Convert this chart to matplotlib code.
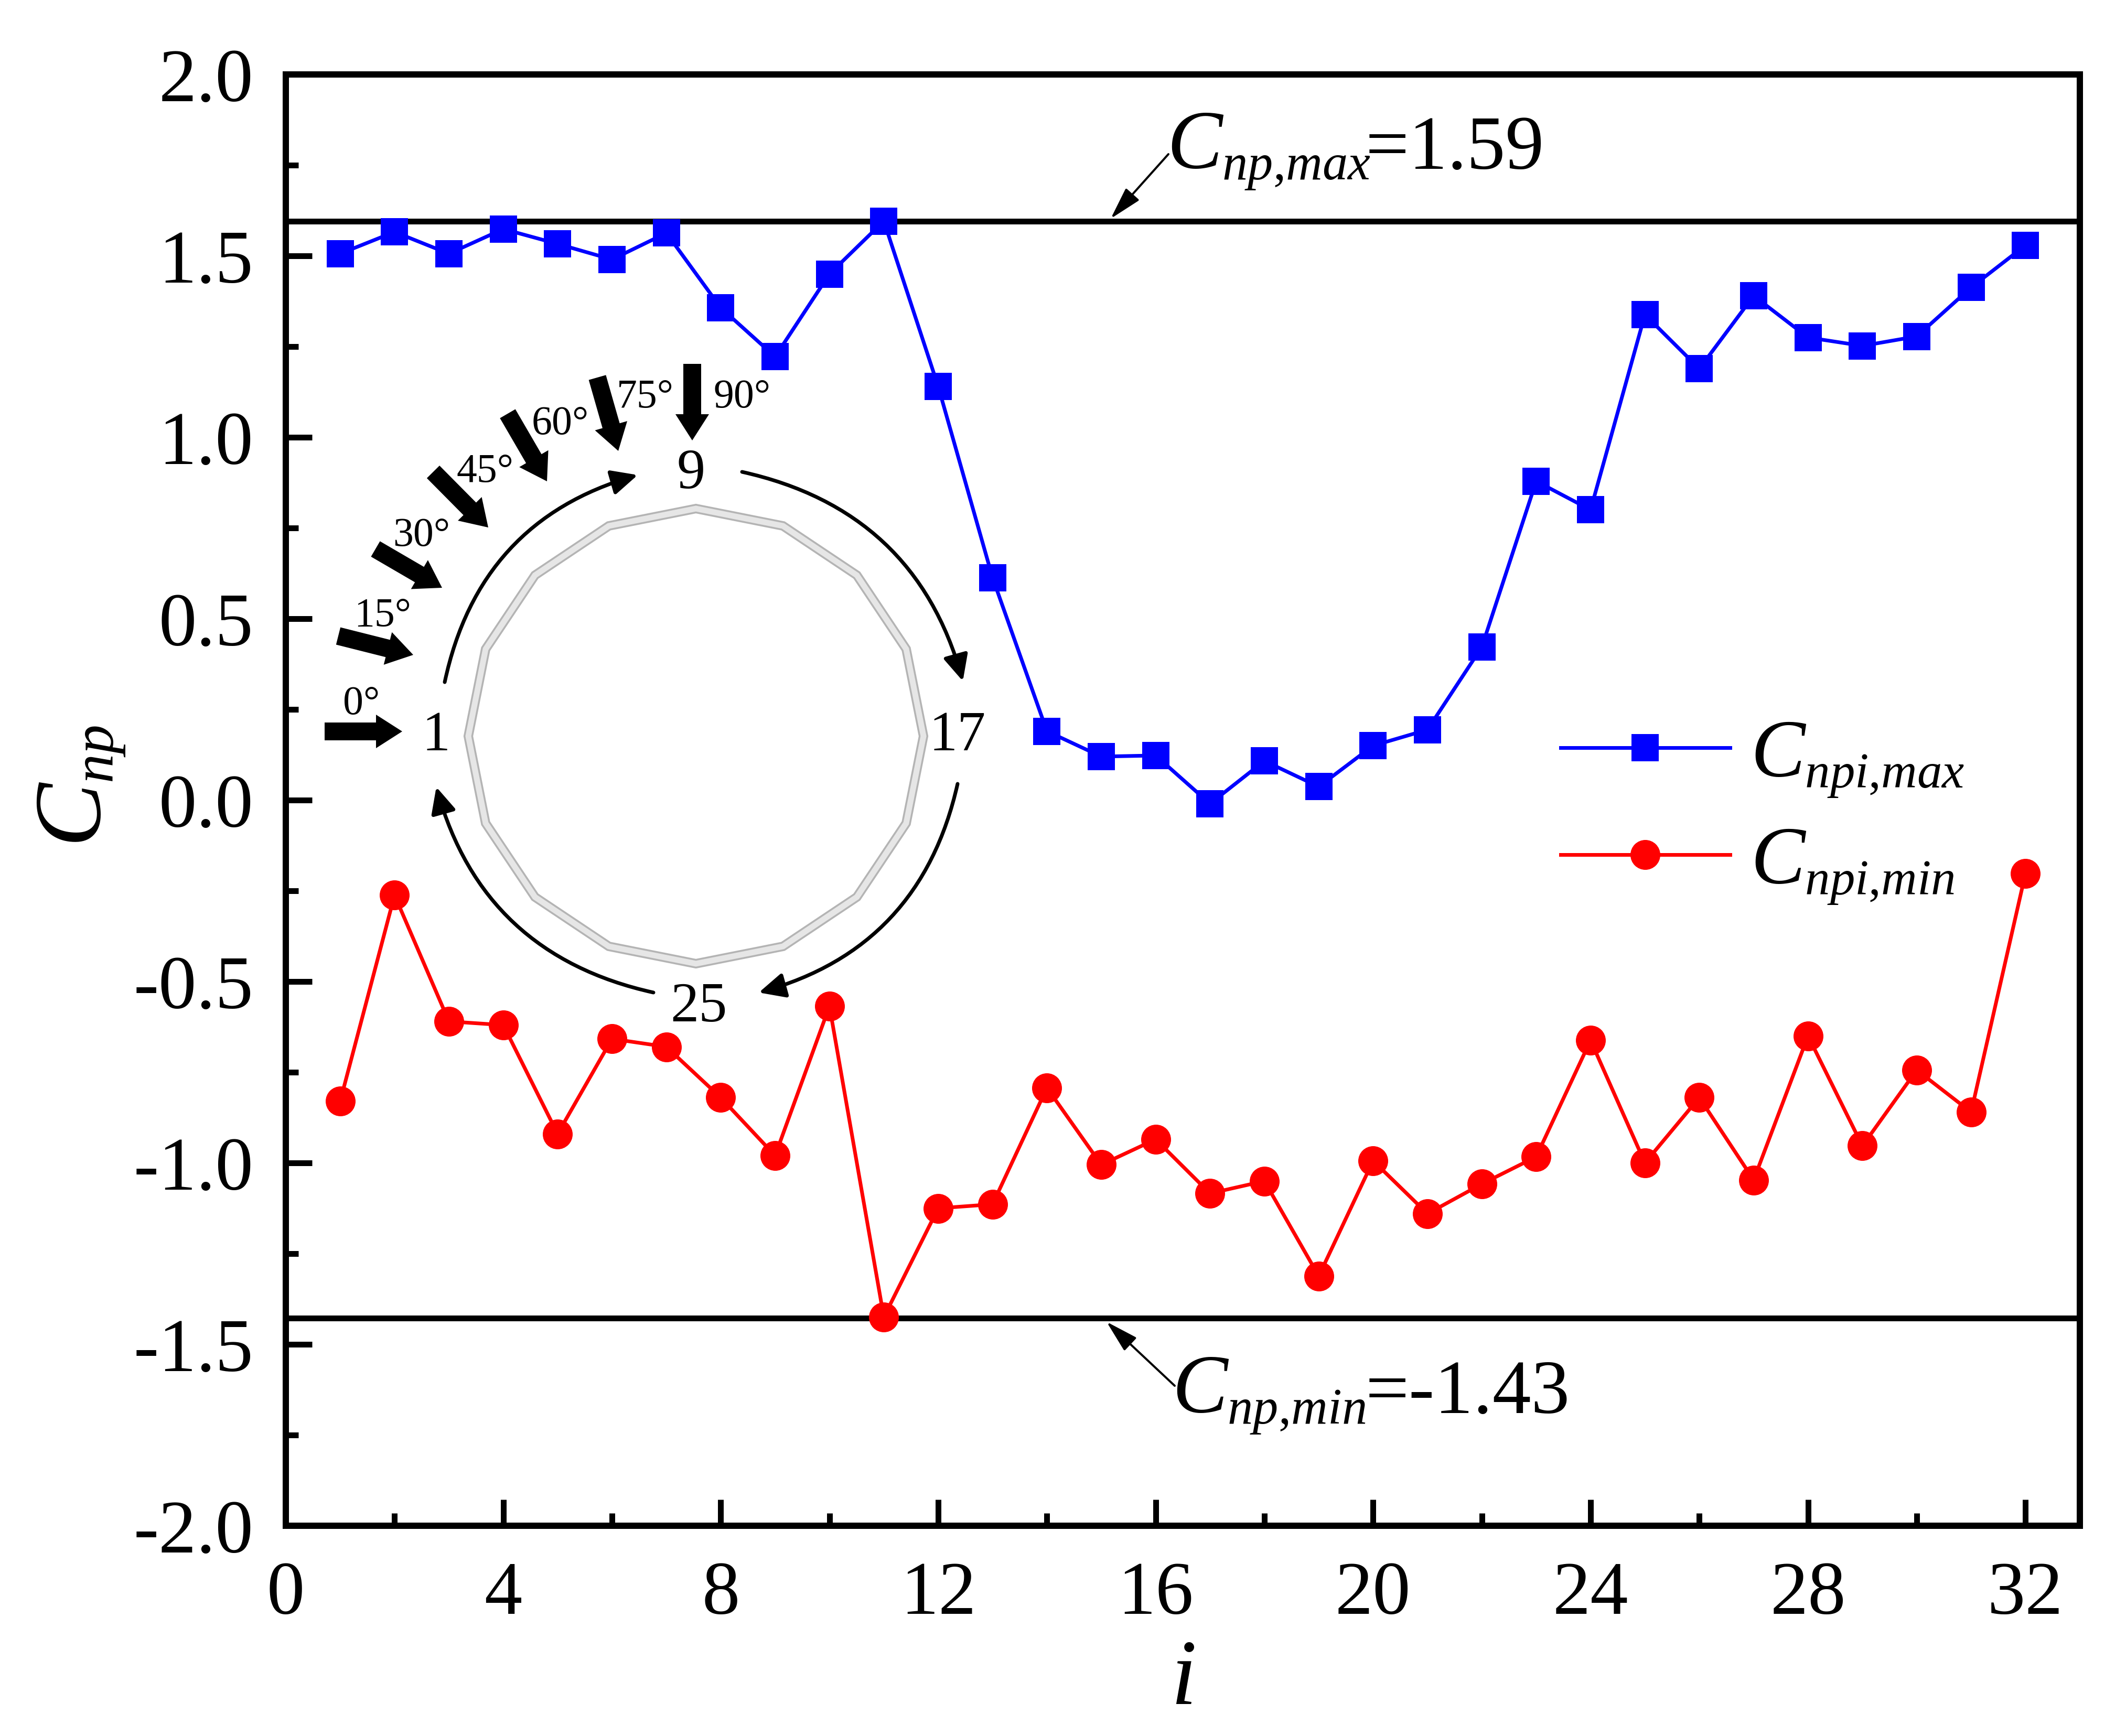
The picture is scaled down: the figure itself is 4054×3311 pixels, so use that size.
import numpy as np
import matplotlib
matplotlib.use('Agg')
import matplotlib.pyplot as plt
import matplotlib._mathtext as mathtext_core
from matplotlib.patches import FancyArrowPatch, Polygon
from matplotlib.ticker import MultipleLocator

plt.rcParams['font.family'] = ['Liberation Serif', 'DejaVu Serif']
plt.rcParams['mathtext.fontset'] = 'custom'
plt.rcParams['mathtext.rm'] = 'Liberation Serif'
plt.rcParams['mathtext.it'] = 'Liberation Serif:italic'
plt.rcParams['axes.unicode_minus'] = False
mathtext_core.SHRINK_FACTOR = 0.61  # subscripts are narrower in the reference

# data
taps = list(range(1, 33))
cnp_max = [1.506, 1.566, 1.506, 1.574, 1.533, 1.49, 1.563, 1.357, 1.222, 1.45, 1.596,
           1.14, 0.613, 0.19, 0.12, 0.123, -0.01, 0.108, 0.037, 0.15, 0.194, 0.422,
           0.879, 0.80, 1.338, 1.189, 1.39, 1.275, 1.252, 1.278, 1.413, 1.529]
cnp_min = [-0.83, -0.262, -0.61, -0.62, -0.92, -0.658, -0.68, -0.82, -0.98, -0.568, -1.425,
           -1.125, -1.114, -0.793, -1.005, -0.935, -1.084, -1.05, -1.312, -0.994, -1.14, -1.058,
           -0.983, -0.662, -1.0, -0.82, -1.047, -0.65, -0.953, -0.744, -0.86, -0.202]
upper_line = 1.595
lower_line = -1.428
angle_labels = ['0', '15', '30', '45', '60', '75', '90']
tap_labels = ['1', '9', '17', '25']

W, H = 4054, 3312
DPI = 400
PT = 72 / DPI  # one pixel in points

fig = plt.figure(figsize=(W / DPI, H / DPI), dpi=DPI)
left, right, top, bottom = 545, 3966, 143, 2911
ax = fig.add_axes([left / W, 1 - bottom / H, (right - left) / W, (bottom - top) / H])

ax.axhline(upper_line, color='k', lw=11 * PT, zorder=2)
ax.axhline(lower_line, color='k', lw=11 * PT, zorder=2)
ax.plot(taps, cnp_max, '-s', color='#0000ff', ms=52 * PT, lw=7 * PT, mew=0,
        label=r'$C_{npi{,}max}$', zorder=3)
ax.plot(taps, cnp_min, '-o', color='#ff0000', ms=57 * PT, lw=7 * PT, mew=0,
        label=r'$C_{npi{,}min}$', zorder=3)

ax.set_xlim(0, 33)
ax.set_ylim(-2, 2)
ax.xaxis.set_major_locator(MultipleLocator(4))
ax.xaxis.set_minor_locator(MultipleLocator(2))
ax.yaxis.set_major_locator(MultipleLocator(0.5))
ax.yaxis.set_minor_locator(MultipleLocator(0.25))
ax.yaxis.set_major_formatter(lambda v, pos: f'{v:.1f}')
ax.tick_params(which='major', direction='in', length=50 * PT, width=11 * PT,
               labelsize=26, pad=67 * PT)
ax.tick_params(which='minor', direction='in', length=24 * PT, width=11 * PT)
ax.tick_params(axis='y', pad=62 * PT)
for s in ax.spines.values():
    s.set_linewidth(12 * PT)

ax.legend(loc='center left', bbox_to_anchor=(0.7105, 0.4915), frameon=False, fontsize=28,
          borderaxespad=0, borderpad=0,
          handlelength=2.08, labelspacing=0.33, handletextpad=0.25)

# overlay in pixel coordinates for the schematic and the callouts
ov = fig.add_axes([0, 0, 1, 1], facecolor='none')
ov.set_xlim(0, W)
ov.set_ylim(H, 0)
ov.axis('off')

# ring of the 16 sided section
cx, cy, r = 1327, 1405, 434
ang = np.deg2rad(np.arange(16) * 22.5)
ring = np.c_[cx + r * np.sin(ang), cy - r * np.cos(ang)]
ov.add_patch(Polygon(ring, closed=True, fill=False, ec='#b4b4b4', lw=18 * PT, joinstyle='miter'))
ov.add_patch(Polygon(ring, closed=True, fill=False, ec='#e6e6e6', lw=11 * PT, joinstyle='miter'))

# curved arrows around the ring
arcs = [((848, 1302), (1216, 907)), ((1415, 901), (1836, 1300)),
        ((1826, 1496), (1447, 1894)), ((1246, 1894), (832, 1502))]
for a, b in arcs:
    ov.add_patch(FancyArrowPatch(a, b, connectionstyle='arc3,rad=-0.3',
                                 arrowstyle='-|>,head_length=0.42,head_width=0.2',
                                 mutation_scale=18, lw=7 * PT, color='k',
                                 shrinkA=0, shrinkB=0))

# wind direction arrows
winds = [((619, 1396), (767, 1396)), ((645, 1214), (788, 1250)), ((716, 1048), (843, 1122)),
         ((826, 901), (931, 1007)), ((968, 790), (1043, 919)), ((1139, 721), (1179, 861)),
         ((1320, 695), (1320, 841))]
for (x0, y0), (x1, y1) in winds:
    ov.arrow(x0, y0, x1 - x0, y1 - y0, width=34, head_width=64, head_length=50,
             length_includes_head=True, color='k', lw=0)

angle_pos = [(689, 1343), (730, 1175), (804, 1022), (925, 900), (1068, 809), (1230, 758), (1415, 758)]
for lab, (x, y) in zip(angle_labels, angle_pos):
    ov.text(x, y, lab + '°', fontsize=14, ha='center', va='center')
tap_pos = [(832, 1405), (1318, 905), (1826, 1405), (1332, 1922)]
for lab, (x, y) in zip(tap_labels, tap_pos):
    ov.text(x, y, lab, fontsize=19.5, ha='center', va='center')

# callouts for the extreme values
callout = dict(arrowstyle='-|>,head_length=0.8,head_width=0.22', color='k', lw=4 * PT,
               shrinkA=0, shrinkB=0, mutation_scale=12)
ov.annotate('', xy=(2118, 418), xytext=(2228, 295), arrowprops=callout)
ov.annotate('', xy=(2110, 2522), xytext=(2240, 2644), arrowprops=callout)
ov.text(2225, 322, r'$C_{np{,}max}$', fontsize=28.5, ha='left', va='baseline')
ov.text(2604, 322, '=1.59', fontsize=26.5, ha='left', va='baseline')
ov.text(2235, 2695, r'$C_{np{,}min}$', fontsize=28.5, ha='left', va='baseline')
ov.text(2604, 2695, '=-1.43', fontsize=26.5, ha='left', va='baseline')

# axis titles
ov.text(156, 1500, r'$C_{np}$', fontsize=33, rotation=90, ha='center', va='center')
ov.text(2255, 3207, r'$i$', fontsize=32, ha='center', va='center')

fig.savefig('out.png', dpi=DPI, facecolor='white')
